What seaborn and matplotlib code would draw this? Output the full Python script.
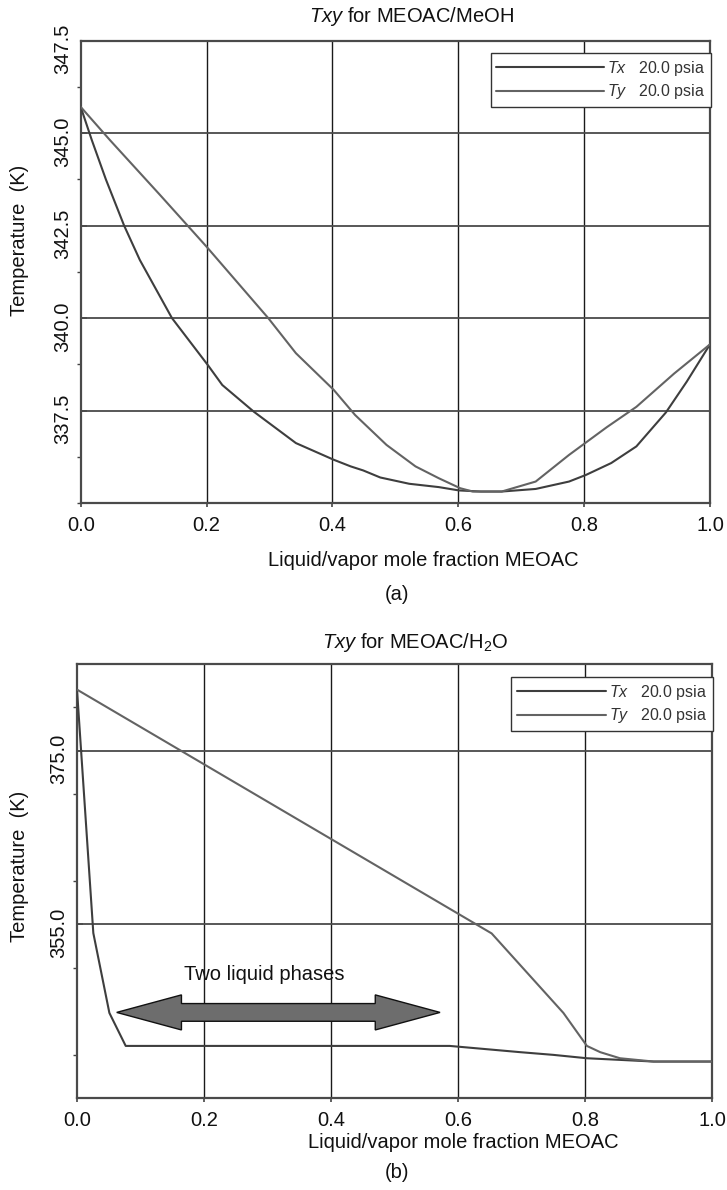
import numpy as np
import matplotlib
matplotlib.use("Agg")
import matplotlib.pyplot as plt
import seaborn as sns
from matplotlib.transforms import ScaledTranslation
from matplotlib.patches import Polygon
from matplotlib.ticker import FixedLocator, MultipleLocator

# ---------------- data ----------------
# (a) MEOAC / MeOH at 20.0 psia
x_tx_a = [0.0, 0.0175, 0.040, 0.069, 0.094, 0.145, 0.202, 0.225, 0.275, 0.342, 0.402,
          0.429, 0.449, 0.476, 0.522, 0.569, 0.601, 0.636, 0.669, 0.723, 0.776, 0.803,
          0.843, 0.883, 0.930, 0.963, 1.0]
T_tx_a = [345.71, 344.82, 343.75, 342.50, 341.57, 340.00, 338.73, 338.19, 337.47, 336.62,
          336.17, 335.99, 335.88, 335.69, 335.52, 335.43, 335.34, 335.31, 335.31, 335.38,
          335.58, 335.76, 336.08, 336.53, 337.45, 338.28, 339.29]
x_ty_a = [0.0, 0.0466, 0.126, 0.200, 0.298, 0.342, 0.402, 0.436, 0.486, 0.532, 0.569,
          0.603, 0.623, 0.669, 0.723, 0.776, 0.836, 0.883, 0.943, 1.0]
T_ty_a = [345.71, 344.81, 343.33, 341.93, 340.00, 339.05, 338.06, 337.38, 336.57, 335.99,
          335.67, 335.40, 335.31, 335.31, 335.58, 336.30, 337.05, 337.60, 338.50, 339.29]

# (b) MEOAC / H2O at 20.0 psia
x_tx_b = [0.0, 0.0257, 0.051, 0.0767, 0.587, 0.698, 0.750, 0.803, 0.908, 1.0]
T_tx_b = [382.05, 354.0, 344.8, 341.0, 341.0, 340.28, 339.97, 339.58, 339.2, 339.2]
x_ty_b = [0.0, 0.653, 0.766, 0.803, 0.824, 0.855, 0.908, 1.0]
T_ty_b = [382.05, 353.96, 344.8, 341.0, 340.28, 339.58, 339.2, 339.2]

legend_labels = [r"$\it{Tx}$   20.0 psia ", r"$\it{Ty}$   20.0 psia "]
titles = [r"$\it{Txy}$ for MEOAC/MeOH", r"$\it{Txy}$ for MEOAC/H$_2$O"]
xlabel = "Liquid/vapor mole fraction MEOAC"
ylabel = "Temperature  (K)"
panel_tags = ["(a)", "(b)"]

xticks = [0.0, 0.2, 0.4, 0.6, 0.8, 1.0]
yticks_a = [337.5, 340.0, 342.5, 345.0, 347.5]
ylim_a = (335.0, 347.5)
yticks_b = [355.0, 375.0]
ylim_b = (335.0, 385.0)

arrow_x = (0.0625, 0.5717)
arrow_T = 344.86
arrow_text = "Two liquid phases"
arrow_text_pos = (0.2945, 348.64)

# ---------------- style ----------------
sns.set_theme(style="white")
plt.rcParams['font.family'] = ['Liberation Sans', 'DejaVu Sans']
plt.rcParams['mathtext.fontset'] = 'custom'
plt.rcParams['mathtext.rm'] = 'Liberation Sans'
plt.rcParams['mathtext.it'] = 'Liberation Sans:italic'

W, H = 727, 1190
fig = plt.figure(figsize=(W / 100, H / 100), dpi=100)
fig.patch.set_facecolor('white')


def rect(l, r, t, b):
    return [l / W, 1 - b / H, (r - l) / W, (b - t) / H]


ax1 = fig.add_axes(rect(80.7, 710, 40.7, 503))
ax2 = fig.add_axes(rect(77, 712, 664, 1098))

C_TX = '#3e3e3e'
C_TY = '#636363'
FS = 14.5


def style_axes(ax, yticks, ylim, yminor):
    ax.set_xlim(0, 1)
    ax.set_ylim(*ylim)
    ax.xaxis.set_major_locator(FixedLocator(xticks))
    ax.set_xticklabels([f"{v:.1f}" for v in xticks], fontsize=FS, color='#111111')
    ax.yaxis.set_major_locator(FixedLocator(yticks))
    ax.set_yticklabels([f"{v:.1f}" for v in yticks], fontsize=FS, color='#111111',
                       rotation=90, va='center')
    ax.yaxis.set_minor_locator(MultipleLocator(yminor))
    ax.tick_params(axis='y', which='major', direction='in', length=4, width=1.2,
                   color='#444444', pad=6, left=True)
    ax.tick_params(axis='y', which='minor', direction='out', length=3, width=1,
                   color='#444444', left=True)
    ax.tick_params(axis='x', which='major', direction='out', length=3, width=1.2,
                   color='#444444', pad=6, bottom=True)
    for s in ax.spines.values():
        s.set_color('#4a4a4a')
        s.set_linewidth(1.6)
    ax.grid(False)
    for xv in xticks[1:-1]:
        ax.axvline(xv, color='#1a1a1a', lw=1.0, zorder=1)
    for yv in yticks:
        if ylim[0] < yv < ylim[1]:
            ax.axhline(yv, color='#4a4a4a', lw=1.3, zorder=1)
    off = ScaledTranslation(0, -8.5 / 100, fig.dpi_scale_trans)
    for lab in ax.get_yticklabels():
        lab.set_transform(lab.get_transform() + off)
    ax.set_xlabel("")
    ax.set_ylabel("")


for ax, xt, Tt, xy, Ty in [(ax1, x_tx_a, T_tx_a, x_ty_a, T_ty_a),
                           (ax2, x_tx_b, T_tx_b, x_ty_b, T_ty_b)]:
    sns.lineplot(x=xt, y=Tt, ax=ax, color=C_TX, lw=1.5, sort=False, estimator=None,
                 zorder=3, label=legend_labels[0])
    sns.lineplot(x=xy, y=Ty, ax=ax, color=C_TY, lw=1.5, sort=False, estimator=None,
                 zorder=3, label=legend_labels[1])

style_axes(ax1, yticks_a, ylim_a, 1.25)
style_axes(ax2, yticks_b, ylim_b, 10)

# legends
for ax, (r, t), hlen in [(ax1, (711, 53), 6.75), (ax2, (713, 677), 5.6)]:
    h, l = ax.get_legend_handles_labels()
    leg = ax.legend(h, l, loc='upper right', bbox_to_anchor=(r / W, 1 - t / H),
                    bbox_transform=fig.transFigure, borderaxespad=0, fontsize=11.5,
                    handlelength=hlen, handletextpad=0.2, borderpad=0.35,
                    labelspacing=0.3, frameon=True, fancybox=False, framealpha=1)
    leg.get_frame().set_edgecolor('#333333')
    leg.get_frame().set_linewidth(1.0)
    for txt in leg.get_texts():
        txt.set_color('#333333')

# arrow for two liquid phases
x0, x1 = arrow_x
yc = arrow_T
hl, sh, hh = 0.102, 1.02, 2.02
poly = [(x0, yc), (x0 + hl, yc + hh), (x0 + hl, yc + sh), (x1 - hl, yc + sh),
        (x1 - hl, yc + hh), (x1, yc), (x1 - hl, yc - hh), (x1 - hl, yc - sh),
        (x0 + hl, yc - sh), (x0 + hl, yc - hh)]
ax2.add_patch(Polygon(poly, closed=True, facecolor='#6d6d6d', edgecolor='#111111',
                      lw=1.0, zorder=4))
ax2.text(arrow_text_pos[0], arrow_text_pos[1], arrow_text, ha='center', va='baseline',
         fontsize=FS, color='#111111', zorder=5)

# titles, labels, tags
fig.text(411 / W, 1 - 22 / H, titles[0], ha='center', va='baseline', fontsize=FS,
         color='#111111')
fig.text(415 / W, 1 - 648 / H, titles[1], ha='center', va='baseline', fontsize=FS,
         color='#111111')
fig.text(423 / W, 1 - 561 / H, xlabel, ha='center', va='center', fontsize=FS,
         color='#111111')
fig.text(463 / W, 1 - 1142 / H, xlabel, ha='center', va='center', fontsize=FS,
         color='#111111')
fig.text(397 / W, 1 - 595 / H, panel_tags[0], ha='center', va='center', fontsize=FS,
         color='#111111')
fig.text(397 / W, 1 - 1173 / H, panel_tags[1], ha='center', va='center', fontsize=FS,
         color='#111111')
fig.text(20 / W, 1 - 240 / H, ylabel, ha='center', va='center', rotation=90,
         fontsize=FS, color='#111111')
fig.text(20 / W, 1 - 866 / H, ylabel, ha='center', va='center', rotation=90,
         fontsize=FS, color='#111111')

fig.savefig("out.png", dpi=100, facecolor='white')
